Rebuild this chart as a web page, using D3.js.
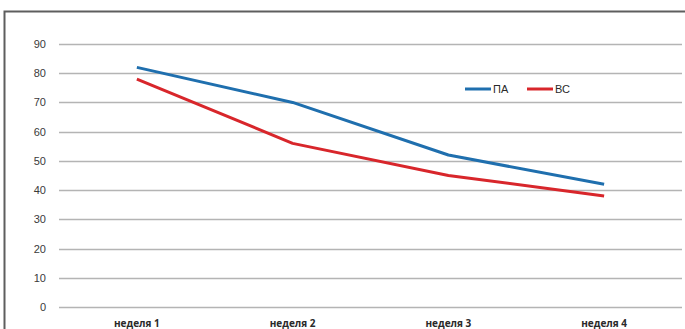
<!DOCTYPE html>
<html>
<head>
<meta charset="utf-8">
<script src="https://cdn.jsdelivr.net/npm/d3@7"></script>
<style>
  html, body { margin: 0; padding: 0; background: #fff; }
  svg { display: block; }
</style>
</head>
<body>
<svg id="chart" width="685" height="329"></svg>
<script>
// Weekly values for the two groups
const weeks = ["неделя 1", "неделя 2", "неделя 3", "неделя 4"];
const seriesPA = [82, 70, 52, 42];
const seriesVS = [78, 56, 45, 38];
const seriesNames = ["ПА", "ВС"];
const seriesColors = ["#1f6fae", "#d8262b"];
const yTicks = [0, 10, 20, 30, 40, 50, 60, 70, 80, 90];

const svg = d3.select("#chart");
const W = 685, H = 329;
const plot = { left: 59, right: 682, top: 44, bottom: 307 };

// outer frame (top and left edges visible)
svg.append("path")
  .attr("d", `M4.5,${H} L4.5,11.5 L${W},11.5`)
  .attr("fill", "none")
  .attr("stroke", "#5e5e5e")
  .attr("stroke-width", 2);

const x = d3.scaleBand().domain(weeks).range([plot.left, plot.right]);
const y = d3.scaleLinear().domain([0, 90]).range([plot.bottom, plot.top]);

// horizontal gridlines
svg.append("g")
  .selectAll("line")
  .data(yTicks)
  .join("line")
  .attr("x1", plot.left)
  .attr("x2", plot.right)
  .attr("y1", d => Math.round(y(d)) + 0.5)
  .attr("y2", d => Math.round(y(d)) + 0.5)
  .attr("stroke", "#b4b4b4")
  .attr("stroke-width", 1.3);

// y axis labels
const yAxis = d3.axisLeft(y).tickValues(yTicks).tickSize(0).tickPadding(0);
const gy = svg.append("g").attr("transform", `translate(46,0)`).call(yAxis);
gy.select(".domain").remove();
gy.selectAll("text")
  .attr("font-family", "Liberation Sans, Arial, sans-serif")
  .attr("font-size", 11)
  .attr("fill", "#3a3a3a");

// x axis labels
const xAxis = d3.axisBottom(x).tickSize(0).tickPadding(0);
const gx = svg.append("g").attr("transform", `translate(0,320)`).call(xAxis);
gx.select(".domain").remove();
gx.selectAll("text")
  .attr("font-family", "Open Sans, Liberation Sans, sans-serif")
  .attr("font-size", 10)
  .attr("font-weight", "bold")
  .attr("fill", "#2a2a2a");

// series lines
const line = d3.line()
  .x((d, i) => x(weeks[i]) + x.bandwidth() / 2)
  .y(d => y(d));

[seriesPA, seriesVS].forEach((vals, k) => {
  svg.append("path")
    .datum(vals)
    .attr("d", line)
    .attr("fill", "none")
    .attr("stroke", seriesColors[k])
    .attr("stroke-width", 3)
    .attr("stroke-linejoin", "round");
});

// legend
const legend = svg.append("g").attr("transform", "translate(465,89)");
const legendOffsets = [0, 62];
seriesNames.forEach((name, k) => {
  const g = legend.append("g").attr("transform", `translate(${legendOffsets[k]},0)`);
  g.append("line")
    .attr("x1", 0).attr("x2", 26)
    .attr("y1", 0).attr("y2", 0)
    .attr("stroke", seriesColors[k])
    .attr("stroke-width", 3);
  g.append("text")
    .attr("x", 28)
    .attr("y", 4)
    .attr("font-family", "Liberation Sans, Arial, sans-serif")
    .attr("font-size", 11)
    .attr("fill", "#2a2a2a")
    .text(name);
});
</script>
</body>
</html>
